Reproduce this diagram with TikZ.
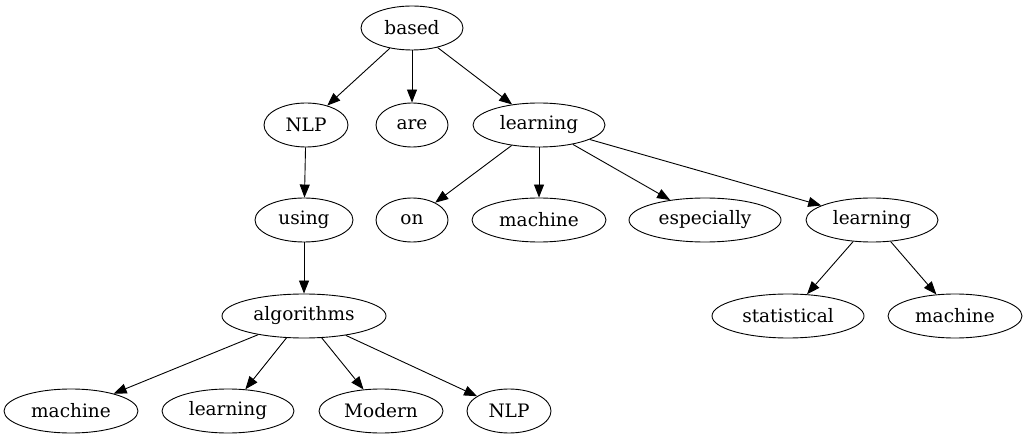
\documentclass[tikz,border=0pt]{standalone}
\usepackage{fontspec}
\setmainfont{DejaVu Serif}
\usetikzlibrary{shapes.geometric,arrows.meta}
\begin{document}
\begin{tikzpicture}[x=1pt,y=-1pt,
  nd/.style={draw,ellipse,inner sep=0pt,minimum height=44pt,font=\fontsize{18.5pt}{20pt}\selectfont},
  edge/.style={draw,-{Triangle[length=13pt,width=10pt]}},line width=0.9pt]
\useasboundingbox (0,0) rectangle (1027,443);
\node[nd,minimum width=102pt] (based) at (412,28) {based};
\node[nd,minimum width=84pt] (nlp) at (306,125) {NLP};
\node[nd,minimum width=72pt] (are) at (412,125) {are};
\node[nd,minimum width=132pt] (learn) at (539,125) {learning};
\node[nd,minimum width=98pt] (using) at (304,220) {using};
\node[nd,minimum width=72pt] (on) at (412,220) {on};
\node[nd,minimum width=134pt] (mach) at (539,220) {machine};
\node[nd,minimum width=152pt] (esp) at (705,220) {especially};
\node[nd,minimum width=132pt] (learn2) at (872,220) {learning};
\node[nd,minimum width=164pt] (algo) at (304,316) {algorithms};
\node[nd,minimum width=152pt] (stat) at (788,316) {statistical};
\node[nd,minimum width=134pt] (mach2) at (955,316) {machine};
\node[nd,minimum width=134pt] (mach3) at (71,411) {machine};
\node[nd,minimum width=132pt] (learn3) at (228,411) {learning};
\node[nd,minimum width=124pt] (modern) at (381,411) {Modern};
\node[nd,minimum width=84pt] (nlp2) at (509,411) {NLP};
\draw[edge] (based) -- (nlp);
\draw[edge] (based) -- (are);
\draw[edge] (based) -- (learn);
\draw[edge] (nlp) -- (using);
\draw[edge] (using) -- (algo);
\draw[edge] (learn) -- (on);
\draw[edge] (learn) -- (mach);
\draw[edge] (learn) -- (esp);
\draw[edge] (learn) -- (learn2);
\draw[edge] (learn2) -- (stat);
\draw[edge] (learn2) -- (mach2);
\draw[edge] (algo) -- (mach3);
\draw[edge] (algo) -- (learn3);
\draw[edge] (algo) -- (modern);
\draw[edge] (algo) -- (nlp2);
\end{tikzpicture}
\end{document}
